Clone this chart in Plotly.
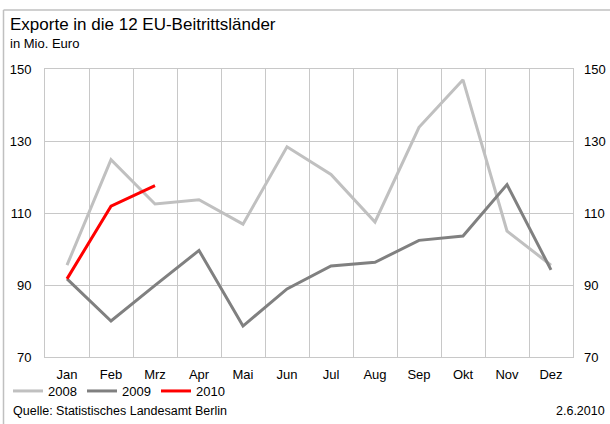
import plotly.graph_objects as go

# Monthly exports to the 12 EU accession countries, in million euro
months = ["Jan", "Feb", "Mrz", "Apr", "Mai", "Jun", "Jul", "Aug", "Sep", "Okt", "Nov", "Dez"]
exports_2008 = [95.5, 124.8, 112.5, 113.7, 106.9, 128.4, 120.7, 107.5, 133.8, 147.0, 105.0, 95.5]
exports_2009 = [91.7, 80.0, 89.9, 99.6, 78.6, 88.9, 95.3, 96.3, 102.4, 103.6, 117.9, 94.2]
exports_2010 = [91.7, 111.9, 117.6]

y_ticks = [70, 90, 110, 130, 150]

FONT = "Liberation Sans, Arial, sans-serif"
GRID = "#c8c8c8"

fig = go.Figure()
fig.add_trace(go.Scatter(x=months, y=exports_2008, name="2008", mode="lines",
                         line=dict(color="#c0c0c0", width=3)))
fig.add_trace(go.Scatter(x=months, y=exports_2009, name="2009", mode="lines",
                         line=dict(color="#808080", width=3)))
fig.add_trace(go.Scatter(x=months[:len(exports_2010)], y=exports_2010, name="2010", mode="lines",
                         line=dict(color="#ff0000", width=3)))
# carrier for the right-hand value axis
fig.add_trace(go.Scatter(x=months, y=exports_2008, yaxis="y2", mode="lines",
                         line=dict(width=0), opacity=0, showlegend=False, hoverinfo="skip"))

W, H = 610, 424
L, R, T, B = 45, 573, 69, 357  # plot area in pixels


def px(x):
    return (x - L) / (R - L)


def py(y):
    return (B - y) / (B - T)


fig.update_layout(
    width=W, height=H,
    margin=dict(l=L, r=W - R, t=T, b=H - B, pad=0, autoexpand=False),
    paper_bgcolor="white", plot_bgcolor="white",
    font=dict(family=FONT, size=13, color="#000000"),
    showlegend=True,
    legend=dict(orientation="h", xref="container", yref="container",
                x=8 / W, y=1 - 391 / H, xanchor="left", yanchor="middle",
                font=dict(size=13), itemwidth=30, entrywidth=29, entrywidthmode="pixels",
                tracegroupgap=0, bgcolor="rgba(0,0,0,0)", borderwidth=0),
    xaxis=dict(type="category", categoryorder="array", categoryarray=months,
               range=[-0.5, 11.5], tickson="boundaries", showgrid=True, gridcolor=GRID,
               gridwidth=1, showline=True, linecolor=GRID, linewidth=1, mirror=True,
               ticks="", ticklabelstandoff=5, tickfont=dict(size=13), zeroline=False,
               automargin=False, fixedrange=True),
    yaxis=dict(range=[70, 150], tickvals=y_ticks, showgrid=True, gridcolor=GRID, gridwidth=1,
               showline=True, linecolor=GRID, linewidth=1, mirror=True, ticks="",
               ticklabelstandoff=10, tickfont=dict(size=13), zeroline=False,
               automargin=False, fixedrange=True),
    yaxis2=dict(range=[70, 150], tickvals=y_ticks, overlaying="y", side="right",
                showgrid=False, showline=False, ticks="", ticklabelstandoff=10,
                tickfont=dict(size=13), zeroline=False, automargin=False, fixedrange=True),
    shapes=[
        dict(type="line", xref="paper", yref="paper", x0=px(3.5), x1=px(612), y0=py(10), y1=py(10),
             line=dict(color="#c0c0c0", width=1.5)),
        dict(type="line", xref="paper", yref="paper", x0=px(3.5), x1=px(3.5), y0=py(10), y1=py(430),
             line=dict(color="#c0c0c0", width=1.5)),
    ],
    annotations=[
        dict(text="Exporte in die 12 EU-Beitrittsländer", xref="paper", yref="paper",
             x=px(8), y=py(24.5), xanchor="left", yanchor="middle", showarrow=False,
             font=dict(size=17, family=FONT)),
        dict(text="in Mio. Euro", xref="paper", yref="paper",
             x=px(8), y=py(44), xanchor="left", yanchor="middle", showarrow=False,
             font=dict(size=13, family=FONT)),
        dict(text="Quelle: Statistisches Landesamt Berlin", xref="paper", yref="paper",
             x=px(10.5), y=py(411), xanchor="left", yanchor="middle", showarrow=False,
             font=dict(size=12.5, family=FONT)),
        dict(text="2.6.2010", xref="paper", yref="paper",
             x=px(607), y=py(411), xanchor="right", yanchor="middle", showarrow=False,
             font=dict(size=12.5, family=FONT)),
    ],
)

fig.write_html("out.html", config={"displayModeBar": False})
